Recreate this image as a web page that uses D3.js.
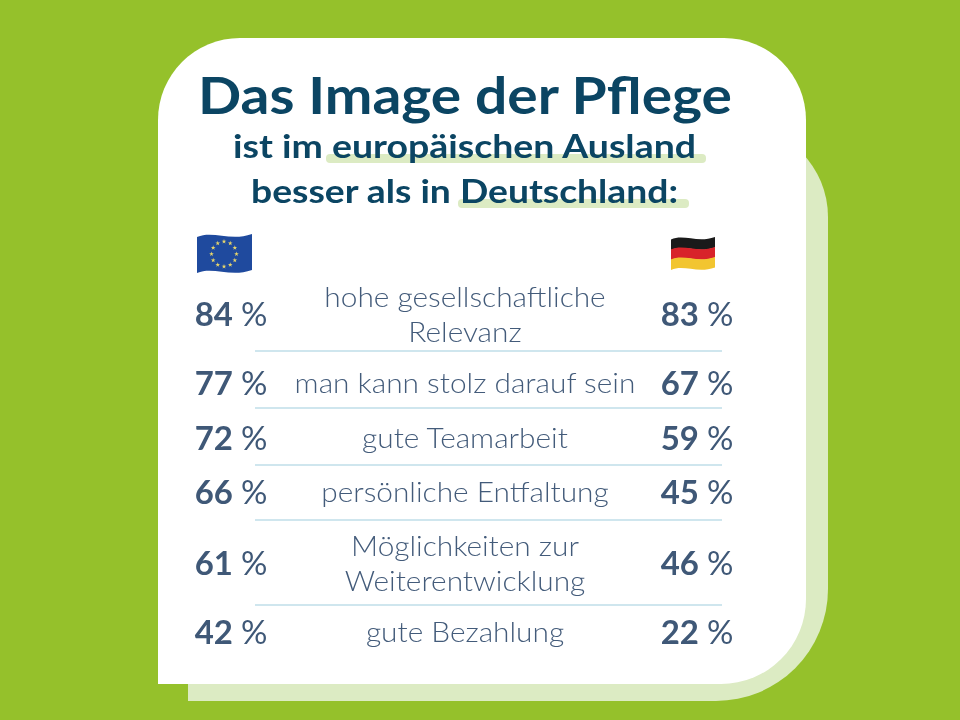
<!DOCTYPE html>
<html>
<head>
<meta charset="utf-8">
<script src="https://cdn.jsdelivr.net/npm/d3@7"></script>
<style>
    html, body { margin: 0; padding: 0; background: #95c12b; }
    svg { display: block; filter: blur(0.45px); }
    text { font-family: "Lato", "Open Sans", sans-serif; }
</style>
</head>
<body>
<svg id="svg" width="960" height="720"></svg>
<script>
const categories = [
    ['hohe gesellschaftliche', 'Relevanz'],
    ['man kann stolz darauf sein'],
    ['gute Teamarbeit'],
    ['persönliche Entfaltung'],
    ['Möglichkeiten zur', 'Weiterentwicklung'],
    ['gute Bezahlung']
];
const euValues = [84, 77, 72, 66, 61, 42];
const deValues = [83, 67, 59, 45, 46, 22];
const titleText = 'Das Image der Pflege';
const subtitleLines = ['ist im europäischen Ausland', 'besser als in Deutschland:'];

const svg = d3.select('#svg');

// rounded rect, bottom left corner stays square
function card(x, y, w, h, r, rBottom) {
    const p = d3.path();
    p.moveTo(x, y + r);
    p.arcTo(x, y, x + r, y, r);
    p.lineTo(x + w - r, y);
    p.arcTo(x + w, y, x + w, y + r, r);
    p.lineTo(x + w, y + h - rBottom);
    p.arcTo(x + w, y + h, x + w - rBottom, y + h, rBottom);
    p.lineTo(x, y + h);
    p.closePath();
    return p.toString();
}

svg.append('path').attr('d', card(188, 125, 640, 576, 92, 112)).attr('fill', '#dcebc3');
svg.append('path').attr('d', card(158, 38, 648, 646, 82, 85)).attr('fill', '#fff');

// heading
svg.append('text')
    .attr('x', 198).attr('y', 114)
    .attr('font-size', 52).attr('font-weight', 700)
    .attr('textLength', 534).attr('lengthAdjust', 'spacingAndGlyphs')
    .attr('fill', '#0b4563')
    .text(titleText);

const subtitleY = d3.scalePoint().domain([0, 1]).range([158, 203]);
const subtitleBox = [[233, 696], [251, 678]];
const markBox = [[326, 706], [458, 689]];

subtitleLines.forEach((line, i) => {
    svg.append('rect')
        .attr('x', markBox[i][0]).attr('width', markBox[i][1] - markBox[i][0])
        .attr('y', subtitleY(i) - 4).attr('height', 9).attr('rx', 4)
        .attr('fill', '#dcebc3');
    svg.append('text')
        .attr('x', subtitleBox[i][0]).attr('y', subtitleY(i))
        .attr('font-size', 33).attr('font-weight', 700)
        .attr('textLength', subtitleBox[i][1] - subtitleBox[i][0]).attr('lengthAdjust', 'spacingAndGlyphs')
        .attr('fill', '#0b4563')
        .text(line);
});

// rows, two line rows are taller
const rowY = d3.scaleOrdinal()
    .domain(d3.range(categories.length))
    .range([315, 384, 439, 493, 564, 633]);
const separatorY = [351, 408, 465, 520, 605];

const rows = svg.append('g').selectAll('g')
    .data(categories)
    .join('g')
    .attr('transform', (d, i) => 'translate(0,' + rowY(i) + ')');

rows.each(function(lines) {
    const lineHeight = 35;
    d3.select(this).selectAll('text.label')
        .data(lines)
        .join('text')
        .attr('class', 'label')
        .attr('transform', (d, j) => 'translate(465,' + ((j - (lines.length - 1) / 2) * lineHeight + 9) + ') scale(1.105,1)')
        .attr('text-anchor', 'middle')
        .attr('font-size', 27).attr('font-weight', 300)
        .attr('fill', '#435b7a')
        .text(d => d);
});

// percent sign is lighter than the number
function addValue(sel, x, values) {
    const t = sel.append('text')
        .attr('transform', 'translate(' + x + ',11) scale(1.03,1)')
        .attr('text-anchor', 'middle')
        .attr('font-size', 32).attr('font-weight', 700)
        .attr('fill', '#3f5877');
    t.append('tspan').text((d, i) => values[i] + ' ');
    t.append('tspan').attr('font-weight', 400).text('%');
}
addValue(rows, 231, euValues);
addValue(rows, 697, deValues);

// separators
svg.append('g').selectAll('line')
    .data(separatorY)
    .join('line')
    .attr('x1', 255).attr('x2', 722)
    .attr('y1', d => d).attr('y2', d => d)
    .attr('stroke', '#cfe6ee').attr('stroke-width', 2);

// wavy flag outline
function flagBand(x, y, w, h) {
    const wave = w * 0.09;
    return 'M' + x + ',' + (y + wave * 0.6)
        + 'C' + (x + w * 0.3) + ',' + (y - wave * 0.8) + ' ' + (x + w * 0.6) + ',' + (y + wave * 1.6) + ' ' + (x + w) + ',' + y
        + 'V' + (y + h)
        + 'C' + (x + w * 0.6) + ',' + (y + h + wave * 1.6) + ' ' + (x + w * 0.3) + ',' + (y + h - wave * 0.8) + ' ' + x + ',' + (y + h + wave * 0.6)
        + 'Z';
}

// EU flag
svg.append('path').attr('d', flagBand(197, 234, 55, 36)).attr('fill', '#1f4a9e');
const starAngle = d3.scaleLinear().domain([0, 12]).range([0, 2 * Math.PI]);
svg.append('g').selectAll('path')
    .data(d3.range(12))
    .join('path')
    .attr('d', d3.symbol(d3.symbolStar, 7))
    .attr('transform', d => 'translate(' + (224 + 12.5 * Math.sin(starAngle(d))) + ',' + (254 - 12.5 * Math.cos(starAngle(d))) + ')')
    .attr('fill', '#e8d66a');

// German flag
const deStripes = ['#1a1a1a', '#d8232a', '#f2c530'];
svg.append('g').selectAll('path')
    .data(deStripes)
    .join('path')
    .attr('d', (d, i) => flagBand(671, 237 + i * 10, 44, 10.5))
    .attr('fill', d => d);
</script>
</body>
</html>
